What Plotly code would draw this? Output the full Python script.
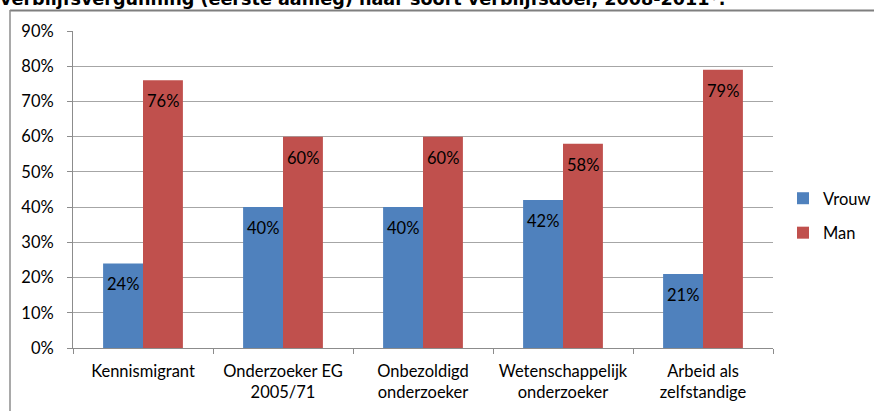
import plotly.graph_objects as go

categories = ["Kennismigrant", "Onderzoeker EG<br>2005/71", "Onbezoldigd<br>onderzoeker",
              "Wetenschappelijk<br>onderzoeker", "Arbeid als<br>zelfstandige"]
vrouw = [24, 40, 40, 42, 21]
man = [76, 60, 60, 58, 79]
series_names = ["Vrouw", "Man"]
tick_vals = [0, 10, 20, 30, 40, 50, 60, 70, 80, 90]
tick_text = [f"{v}%" for v in tick_vals]
title_text = "verblijfsvergunning (eerste aanleg) naar soort verblijfsdoel, 2008-2011*."

FONT = "Lato"
FS = 16.5
BARGAP = 0.43
half = (1 - BARGAP) / 4

fig = go.Figure()
fig.add_trace(go.Bar(x=categories, y=vrouw, name=series_names[0], marker_color="#4F81BD",
                     marker_line_width=0, legendgroup="g1"))
fig.add_trace(go.Bar(x=categories, y=man, name=series_names[1], marker_color="#C0504D",
                     marker_line_width=0, legendgroup="g2"))

# data labels, inside end like the Excel original
for vals, off in [(vrouw, -half), (man, half)]:
    for j, v in enumerate(vals):
        fig.add_annotation(x=j + off, y=v, xref="x", yref="y", text=f"{v}%",
                           showarrow=False, yshift=-21,
                           font=dict(family=FONT, size=FS, color="#000000"))

W, H = 874, 411
# plot area in page pixels
PL, PR, PT, PB = 73, 773, 31, 348
L, T, R, B = PL, PT, W - PR, H - PB
pw, ph = PR - PL, PB - PT
def px(x):
    return (x - PL) / pw
def py(y):
    return (PB - y) / ph

fig.add_shape(type="line", xref="paper", yref="paper", x0=px(10), x1=px(874), y0=py(10.5), y1=py(10.5),
              line=dict(color="#7f7f7f", width=2), layer="above")
fig.add_shape(type="line", xref="paper", yref="paper", x0=px(10), x1=px(10), y0=py(10), y1=py(411),
              line=dict(color="#8c8c8c", width=1.5), layer="above")

fig.add_annotation(xref="paper", yref="paper", x=px(-2), y=py(11), xanchor="left", yanchor="bottom",
                   text=f"<b>{title_text}</b>", showarrow=False,
                   font=dict(family="DejaVu Sans", size=17.6, color="#000000"))

fig.update_layout(
    width=W, height=H,
    margin=dict(l=L, r=R, t=T, b=B, autoexpand=False),
    paper_bgcolor="white", plot_bgcolor="white",
    barmode="group", bargap=BARGAP, bargroupgap=0,
    font=dict(family=FONT, size=FS, color="#000000"),
    legend=dict(x=px(783), y=py(181), xanchor="left", yanchor="top",
                font=dict(family=FONT, size=16.5, color="#000000"),
                itemwidth=30, tracegroupgap=10, traceorder="grouped", bgcolor="rgba(0,0,0,0)"),
    showlegend=True,
)
fig.update_xaxes(showline=True, linecolor="#8c8c8c", linewidth=1, ticks="outside",
                 tickson="boundaries", ticklen=5, tickcolor="#8c8c8c", showgrid=False,
                 ticklabelstandoff=8,
                 tickfont=dict(family=FONT, size=FS, color="#000000"))
fig.update_yaxes(range=[0, 90], tickvals=tick_vals, ticktext=tick_text, showline=True,
                 linecolor="#8c8c8c", linewidth=1, ticks="outside", ticklen=5, tickcolor="#8c8c8c",
                 showgrid=True, gridcolor="#a6a6a6", gridwidth=1, zeroline=False,
                 ticklabelstandoff=10,
                 tickfont=dict(family=FONT, size=FS, color="#000000"))

fig.write_html("out.html", config={"displayModeBar": False},
               post_script="document.body.style.margin='0';document.body.style.overflow='hidden';")
